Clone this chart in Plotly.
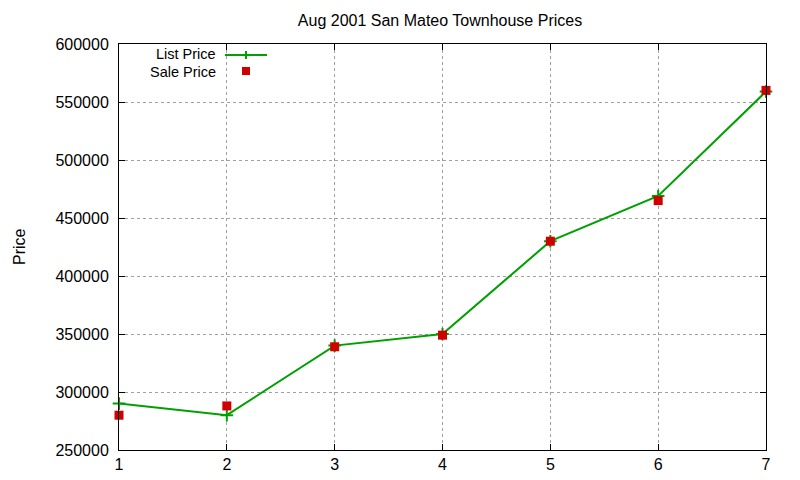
import plotly.graph_objects as go

# Data.
months = [1, 2, 3, 4, 5, 6, 7]
list_price = [290000, 280000, 340000, 350000, 430000, 469000, 559000]
sale_price = [280000, 288000, 339000, 349000, 430000, 465000, 560000]

green = '#00a000'
red = '#d00000'
font = 'Liberation Sans, Arial, sans-serif'

# Plot area in page pixels (the page adds an 8px body margin).
L, R, T, B = 119, 766, 44, 450
OFF = 8

fig = go.Figure()
fig.add_trace(go.Scatter(x=months, y=list_price, mode='lines+markers',
                         name='List Price',
                         line=dict(color=green, width=2),
                         marker=dict(symbol='cross-thin', size=9,
                                     line=dict(color=green, width=2)),
                         cliponaxis=False))
fig.add_trace(go.Scatter(x=months, y=sale_price, mode='markers',
                         name='Sale Price',
                         marker=dict(symbol='square', size=9, color=red),
                         cliponaxis=False))

fig.update_layout(
    width=800, height=480,
    margin=dict(l=L - OFF, r=800 + OFF - R, t=T - OFF, b=480 + OFF - B),
    showlegend=False,
    plot_bgcolor='white', paper_bgcolor='white',
    font=dict(family=font, size=16, color='black'),
    title=dict(text='Aug 2001 San Mateo Townhouse Prices', x=432 / 800,
               y=1 - 12 / 480, xanchor='center', yanchor='middle',
               font=dict(size=16)),
    xaxis=dict(range=[1, 7], dtick=1, showgrid=True, gridcolor='#a0a0a0',
               griddash='dot', gridwidth=1, zeroline=False, automargin=False,
               showline=True, linecolor='black', linewidth=1, mirror='ticks',
               ticks='inside', ticklen=6, tickcolor='black'),
    yaxis=dict(range=[250000, 600000], dtick=50000, tickformat='d',
               showgrid=True, gridcolor='#a0a0a0', griddash='dot', gridwidth=1,
               zeroline=False, showline=True, linecolor='black', linewidth=1,
               mirror='ticks', ticks='inside', ticklen=6, tickcolor='black',
               ticklabelstandoff=6, automargin=False),
)

def px(x):
    return (x - L) / (R - L)

def py(y):
    return 1 - (y - T) / (B - T)

# Y axis label, placed like gnuplot's.
fig.add_annotation(x=px(19), y=py(247), xref='paper', yref='paper',
                   text='Price', textangle=-90, showarrow=False, borderpad=0,
                   xanchor='center', yanchor='middle')

# Gnuplot-style key: text on the left, sample on the right.
fig.add_annotation(x=px(217), y=py(54), xref='paper', yref='paper',
                   text='List Price', showarrow=False, borderpad=0,
                   xanchor='right', yanchor='middle', font=dict(size=14.5))
fig.add_annotation(x=px(217), y=py(72), xref='paper', yref='paper',
                   text='Sale Price', showarrow=False, borderpad=0,
                   xanchor='right', yanchor='middle', font=dict(size=14.5))
fig.add_shape(type='line', xref='paper', yref='paper',
              x0=px(225), x1=px(267), y0=py(55), y1=py(55),
              line=dict(color=green, width=2))
fig.add_shape(type='line', xref='paper', yref='paper',
              x0=px(246), x1=px(246), y0=py(51), y1=py(59),
              line=dict(color=green, width=2))
fig.add_shape(type='rect', xref='paper', yref='paper',
              x0=px(242), x1=px(250), y0=py(67), y1=py(75),
              line=dict(width=0), fillcolor=red)

fig.write_html('out.html')
